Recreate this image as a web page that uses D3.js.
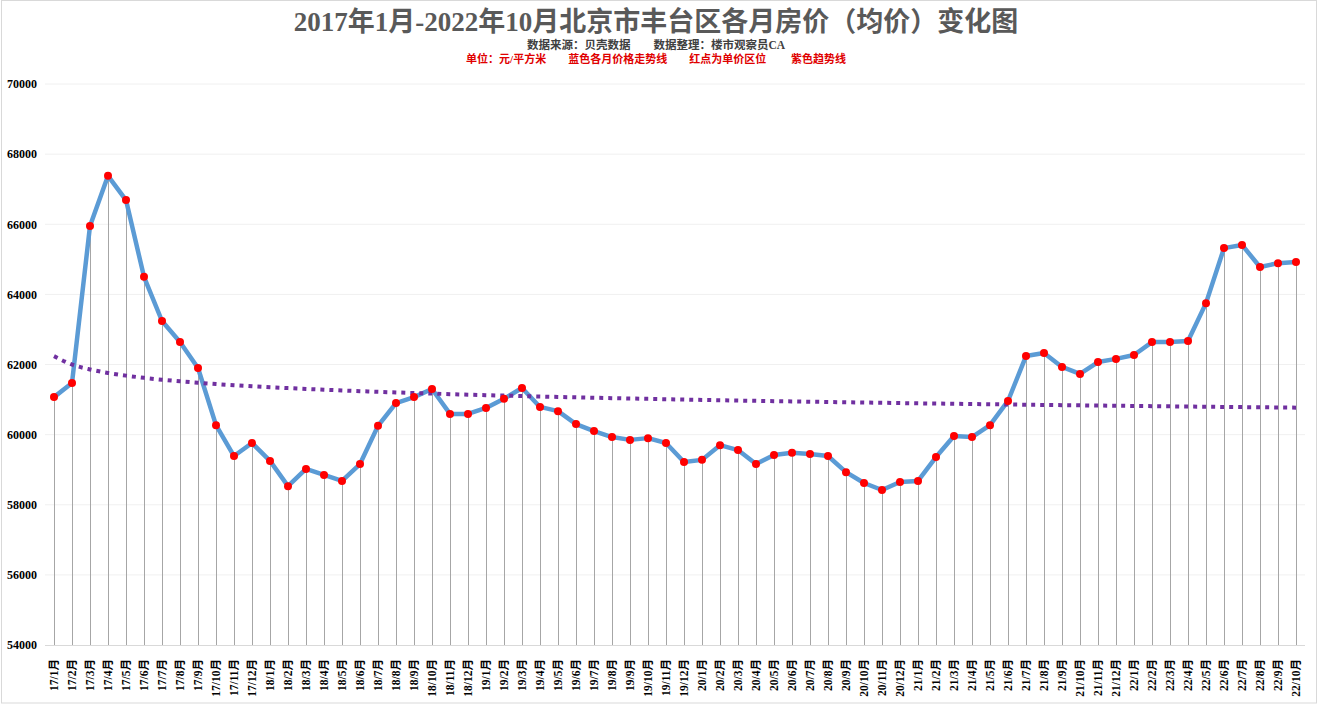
<!DOCTYPE html>
<html><head><meta charset="utf-8">
<script src="https://cdn.jsdelivr.net/npm/d3@7"></script>
<style>body{margin:0;background:#fff;}svg{display:block;}</style>
</head><body><svg id="c" width="1321" height="706"></svg>
<script>
const categories = ["17/1月","17/2月","17/3月","17/4月","17/5月","17/6月","17/7月","17/8月","17/9月","17/10月","17/11月","17/12月",
"18/1月","18/2月","18/3月","18/4月","18/5月","18/6月","18/7月","18/8月","18/9月","18/10月","18/11月","18/12月",
"19/1月","19/2月","19/3月","19/4月","19/5月","19/6月","19/7月","19/8月","19/9月","19/10月","19/11月","19/12月",
"20/1月","20/2月","20/3月","20/4月","20/5月","20/6月","20/7月","20/8月","20/9月","20/10月","20/11月","20/12月",
"21/1月","21/2月","21/3月","21/4月","21/5月","21/6月","21/7月","21/8月","21/9月","21/10月","21/11月","21/12月",
"22/1月","22/2月","22/3月","22/4月","22/5月","22/6月","22/7月","22/8月","22/9月","22/10月"];
const prices = [61070,61470,65950,67380,66690,64500,63240,62640,61900,60270,59390,59760,
59250,58530,59020,58850,58680,59160,60250,60900,61070,61300,60590,60590,
60760,61020,61330,60790,60670,60300,60100,59930,59850,59900,59760,59220,
59280,59700,59560,59160,59420,59480,59450,59390,58930,58620,58420,58650,
58680,59360,59960,59930,60270,60960,62240,62330,61930,61730,62070,62160,
62270,62640,62640,62670,63750,65320,65410,64780,64890,64920];
const yTicks = [54000,56000,58000,60000,62000,64000,66000,68000,70000];
const title = "2017年1月-2022年10月北京市丰台区各月房价（均价）变化图";
const subtitle1 = "数据来源：贝壳数据\u3000\u3000数据整理：楼市观察员CA";
const subtitle2 = "单位：元/平方米\u3000\u3000蓝色各月价格走势线\u3000\u3000红点为单价区位\u3000\u3000 紫色趋势线";

const svg = d3.select("#c");
const m = {left:45, right:1305, top:84, bottom:645};

svg.append("rect").attr("x",1.5).attr("y",0.5).attr("width",1315).attr("height",702.5)
  .attr("fill","#fff").attr("stroke","#d9d9d9").attr("stroke-width",1);

const x = d3.scaleBand().domain(categories).range([m.left, m.right]).padding(0);
const y = d3.scaleLinear().domain([54000,70000]).range([m.bottom, m.top]);
const cx = d => x(d) + x.bandwidth()/2;

// gridlines
svg.append("g").selectAll("line").data(yTicks.filter(t=>t>54000)).join("line")
  .attr("x1",m.left).attr("x2",m.right).attr("y1",d=>y(d)).attr("y2",d=>y(d))
  .attr("stroke","#f0f0f0").attr("stroke-width",1);

// y axis labels
const yAxis = d3.axisLeft(y).tickValues(yTicks).tickSize(0).tickPadding(0).tickFormat(d3.format("d"));
const gy = svg.append("g").attr("transform",`translate(${37},0)`).call(yAxis);
gy.select(".domain").remove();
gy.selectAll("text").attr("font-family","'Liberation Serif','Times New Roman',serif")
  .attr("font-size",12).attr("font-weight","bold").attr("fill","#000");

// bottom axis line
svg.append("line").attr("x1",m.left).attr("x2",m.right).attr("y1",y(54000)+0.5).attr("y2",y(54000)+0.5)
  .attr("stroke","#d9d9d9").attr("stroke-width",1);

// drop lines
svg.append("g").selectAll("line").data(categories).join("line")
  .attr("x1",d=>Math.round(cx(d))+0.5).attr("x2",d=>Math.round(cx(d))+0.5)
  .attr("y1",(d,i)=>y(prices[i])).attr("y2",y(54000))
  .attr("stroke","#a6a6a6").attr("stroke-width",1);

// x axis labels
const xAxis = d3.axisBottom(x).tickSize(0).tickPadding(0);
const gx = svg.append("g").attr("transform",`translate(0,${m.bottom})`).call(xAxis);
gx.select(".domain").remove();
gx.selectAll("text")
  .attr("transform","rotate(-90)").attr("x",-14).attr("y",0).attr("dy","0.35em")
  .attr("text-anchor","end")
  .attr("font-family","'Liberation Serif','Times New Roman','Noto Sans CJK SC',serif")
  .attr("font-size",11.5).attr("font-weight","bold").attr("fill","#000");

// logarithmic trendline via least squares (as spreadsheet trendline)
const lx = categories.map((c,i)=>Math.log(i+1));
const mx = d3.mean(lx), my = d3.mean(prices);
const b = d3.sum(lx.map((v,i)=>(v-mx)*(prices[i]-my))) / d3.sum(lx.map(v=>(v-mx)*(v-mx)));
const a = my - b*mx;
const trend = categories.map((c,i)=>a + b*Math.log(i+1));

// price line
const line = d3.line().x((d,i)=>cx(categories[i])).y(d=>y(d));
svg.append("path").datum(prices).attr("d",line).attr("fill","none")
  .attr("stroke","#5b9bd5").attr("stroke-width",4.5).attr("stroke-linejoin","round");

// trend line
svg.append("path").datum(trend).attr("d",d3.line().x((d,i)=>cx(categories[i])).y(d=>y(d)).curve(d3.curveMonotoneX))
  .attr("fill","none").attr("stroke","#7030a0").attr("stroke-width",4)
  .attr("stroke-dasharray","4,5");

// dots
svg.append("g").selectAll("circle").data(prices).join("circle")
  .attr("cx",(d,i)=>cx(categories[i])).attr("cy",d=>y(d)).attr("r",4)
  .attr("fill","#ff0000");

// titles
svg.append("text").attr("x",656).attr("y",31).attr("text-anchor","middle")
  .attr("font-family","'Liberation Serif','Noto Sans CJK SC',serif").attr("font-size",27)
  .attr("font-weight","bold").attr("fill","#595959").text(title);
svg.append("text").attr("x",656).attr("y",49).attr("text-anchor","middle")
  .attr("font-family","'Liberation Serif','Noto Sans CJK SC',serif").attr("font-size",11.5)
  .attr("font-weight","bold").attr("fill","#404040").text(subtitle1);
svg.append("text").attr("x",656).attr("y",63).attr("text-anchor","middle")
  .attr("font-family","'Liberation Serif','Noto Sans CJK SC',serif").attr("font-size",11)
  .attr("font-weight","bold").attr("fill","#e00000").text(subtitle2);
</script></body></html>
